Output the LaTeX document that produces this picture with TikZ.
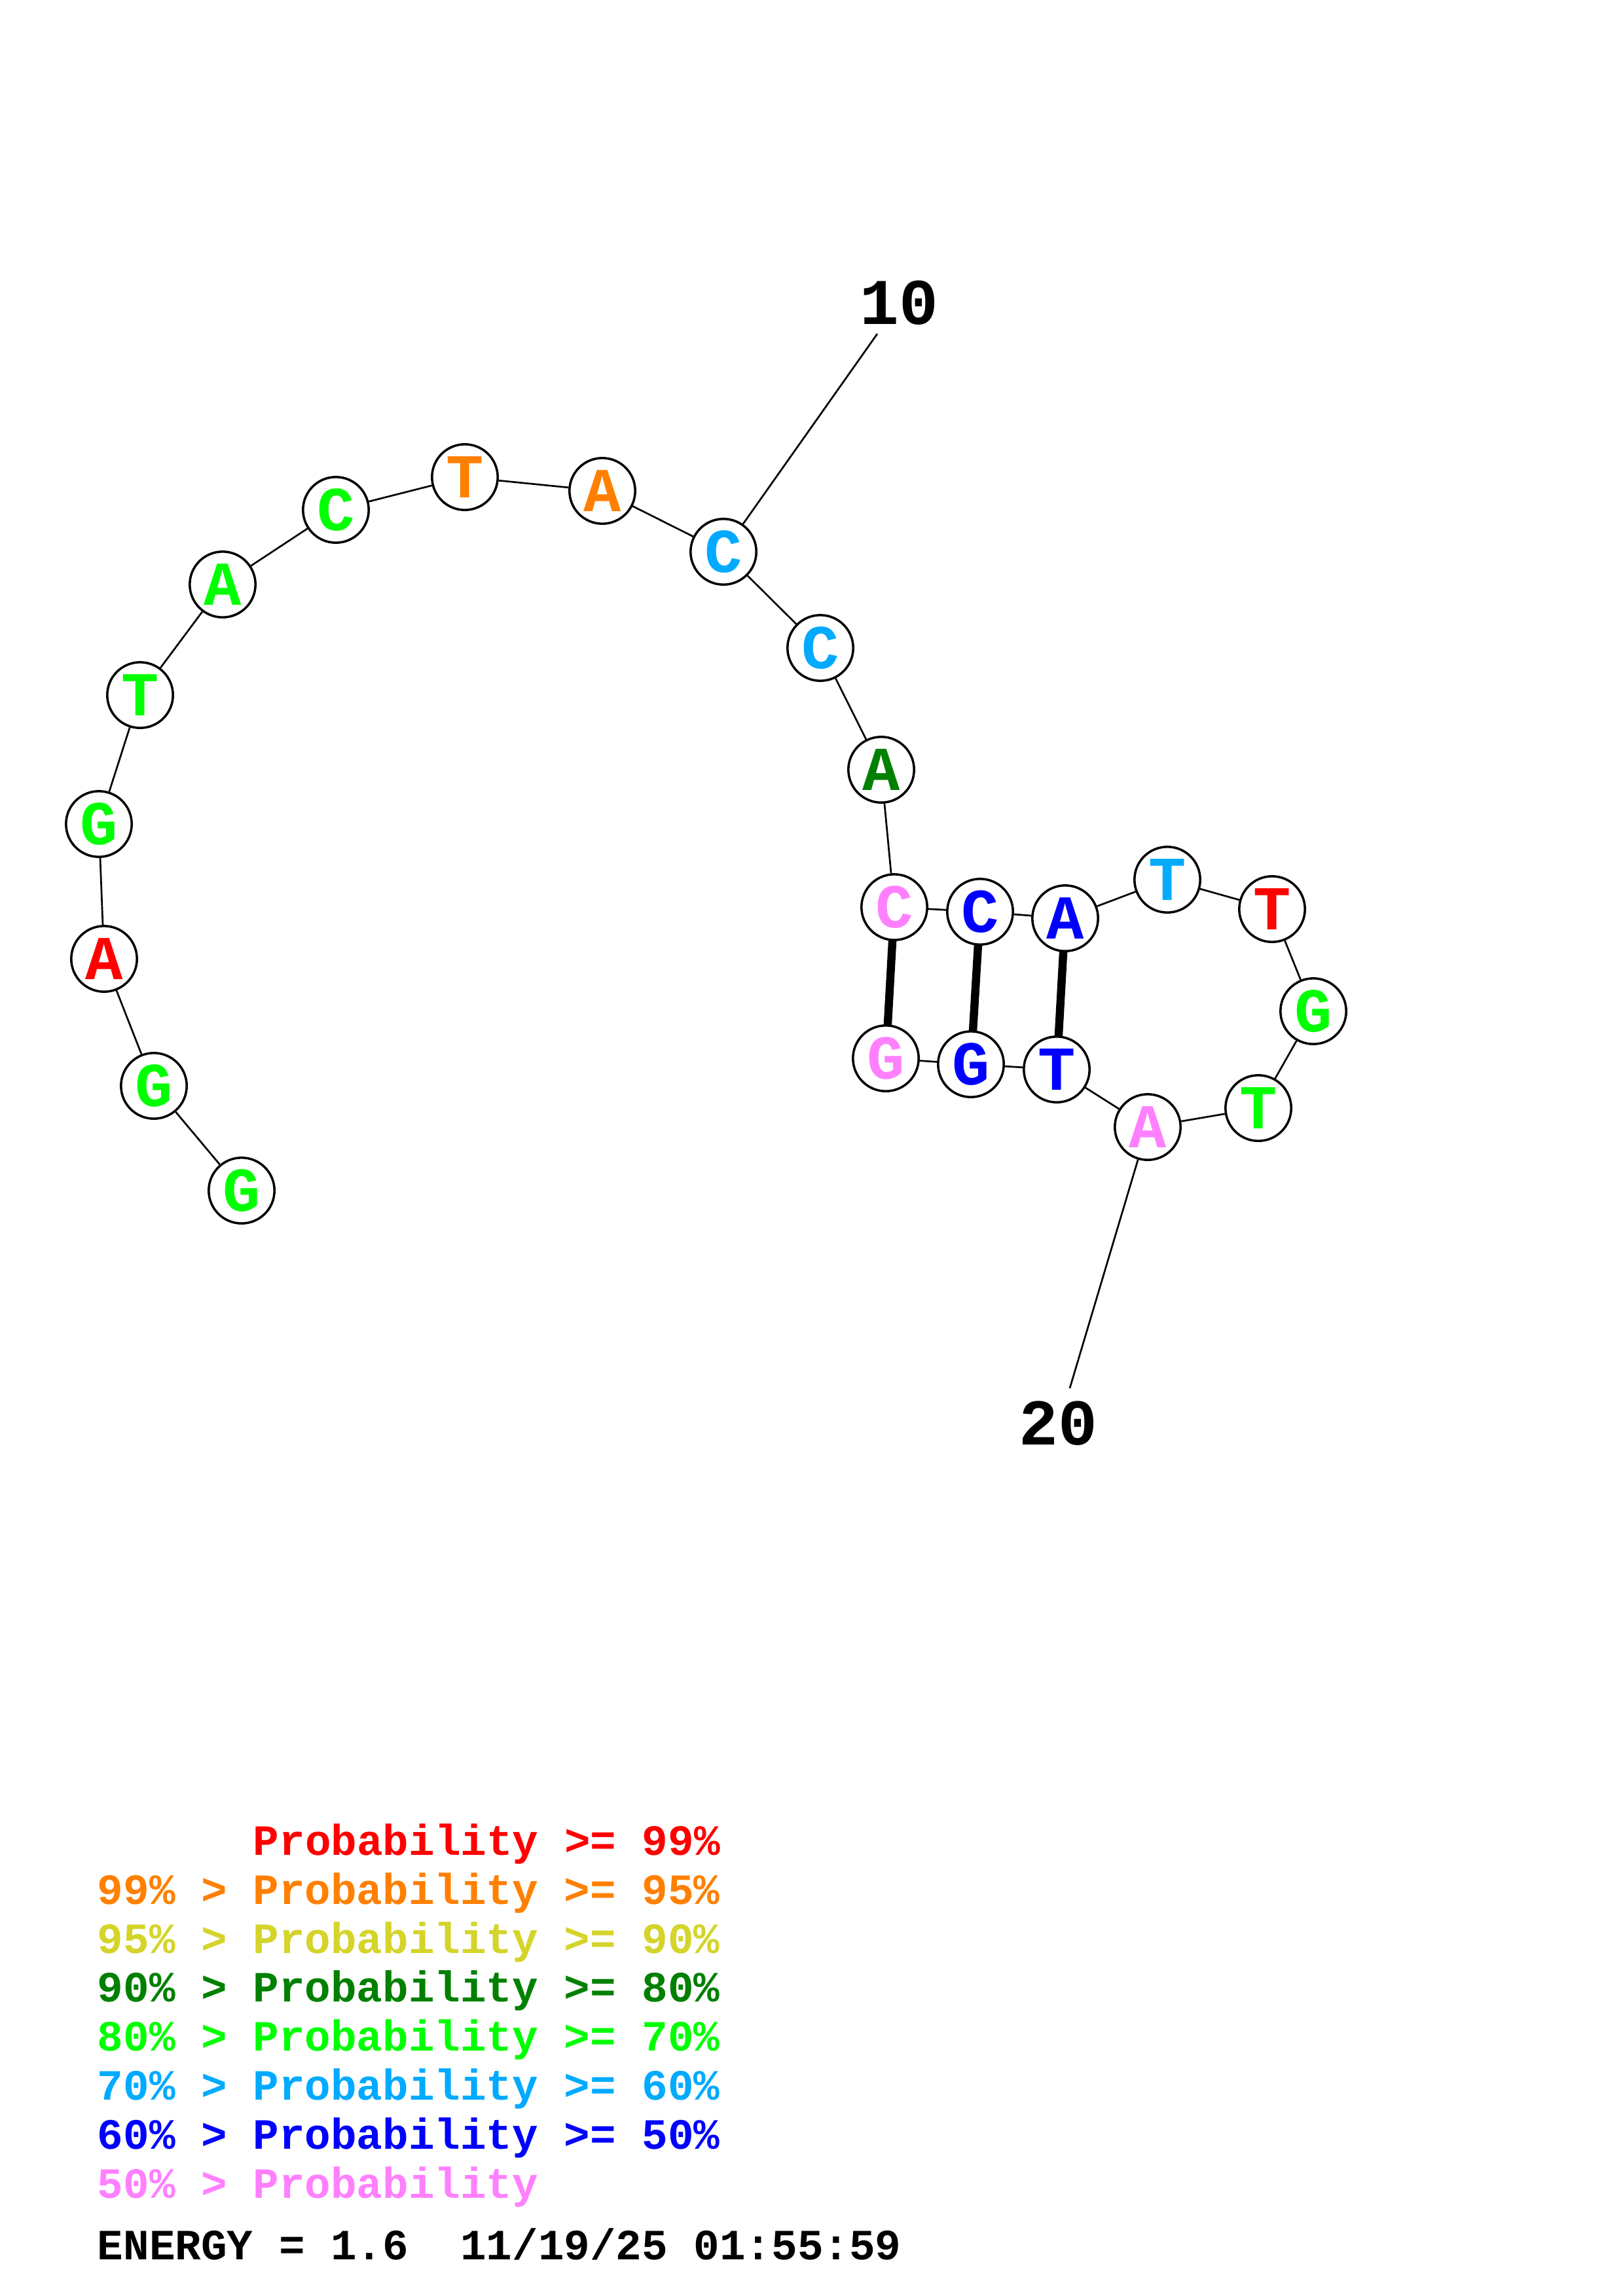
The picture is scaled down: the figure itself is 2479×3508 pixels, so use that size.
\documentclass[tikz,border=0pt]{standalone}
\usepackage{fontspec}
\newfontfamily\monof{Liberation Mono}
\definecolor{cRed}{RGB}{255,0,0}
\definecolor{cOrange}{RGB}{255,128,0}
\definecolor{cYellow}{RGB}{212,212,42}
\definecolor{cDkGreen}{RGB}{0,128,0}
\definecolor{cGreen}{RGB}{0,255,0}
\definecolor{cLtBlue}{RGB}{0,170,255}
\definecolor{cBlue}{RGB}{0,0,255}
\definecolor{cPink}{RGB}{255,128,255}
\tikzset{
  base/.style={circle, draw=black, line width=0.85pt, fill=white, minimum size=8.5mm, inner sep=0pt,
    font=\monof\bfseries\fontsize{23}{23}\selectfont},
  backbone/.style={line width=0.65pt, black},
  pairline/.style={line width=3pt, black},
  numlabel/.style={inner sep=0pt, font=\monof\bfseries\fontsize{24}{24}\selectfont},
  legend/.style={anchor=base west, inner sep=0pt, font=\monof\bfseries\fontsize{15.9}{18}\selectfont}
}
\begin{document}
\begin{tikzpicture}[x=0.0846667mm, y=-0.0846667mm]
\useasboundingbox[fill=white] (0,0) rectangle (2479,3508);
% base pairs (drawn first so circles cover ends)
\coordinate (p13) at (1366,1386);
\coordinate (p14) at (1497,1393);
\coordinate (p15) at (1627,1403);
\coordinate (p21) at (1614,1634);
\coordinate (p22) at (1483,1626);
\coordinate (p23) at (1353,1617);
\draw[pairline] (p13) -- (p23);
\draw[pairline] (p14) -- (p22);
\draw[pairline] (p15) -- (p21);
% backbone nodes
\node[base, text=cGreen]   (n1)  at (369,1819) {G};
\node[base, text=cGreen]   (n2)  at (235,1659) {G};
\node[base, text=cRed]     (n3)  at (159,1465) {A};
\node[base, text=cGreen]   (n4)  at (151,1259) {G};
\node[base, text=cGreen]   (n5)  at (214,1062) {T};
\node[base, text=cGreen]   (n6)  at (340,893)  {A};
\node[base, text=cGreen]   (n7)  at (513,779)  {C};
\node[base, text=cOrange]  (n8)  at (710,729)  {T};
\node[base, text=cOrange]  (n9)  at (920,750)  {A};
\node[base, text=cLtBlue]  (n10) at (1105,843) {C};
\node[base, text=cLtBlue]  (n11) at (1253,990) {C};
\node[base, text=cDkGreen] (n12) at (1346,1176) {A};
\node[base, text=cPink]    (n13) at (p13) {C};
\node[base, text=cBlue]    (n14) at (p14) {C};
\node[base, text=cBlue]    (n15) at (p15) {A};
\node[base, text=cLtBlue]  (n16) at (1783,1344) {T};
\node[base, text=cRed]     (n17) at (1943,1389) {T};
\node[base, text=cGreen]   (n18) at (2006,1545) {G};
\node[base, text=cGreen]   (n19) at (1922,1693) {T};
\node[base, text=cPink]    (n20) at (1753,1722) {A};
\node[base, text=cBlue]    (n21) at (p21) {T};
\node[base, text=cBlue]    (n22) at (p22) {G};
\node[base, text=cPink]    (n23) at (p23) {G};
% backbone
\draw[backbone] (n1) -- (n2) -- (n3) -- (n4) -- (n5) -- (n6) -- (n7) -- (n8) -- (n9) -- (n10) -- (n11) -- (n12);
\draw[backbone] (n12) -- (n13) -- (n14) -- (n15) -- (n16) -- (n17) -- (n18) -- (n19) -- (n20) -- (n21) -- (n22) -- (n23);
% position labels
\node[numlabel] (l10) at (1373,463) {10};
\coordinate (e10) at (1340,510);
\draw[backbone] (n10) -- (e10);
\node[numlabel] (l20) at (1616,2175) {20};
\coordinate (e20) at (1634,2121);
\draw[backbone] (n20) -- (e20);
% legend
\node[legend, text=cRed]     (g1) at (386,2834) {Probability >= 99\%};
\node[legend, text=cOrange]  (g2) at (148,2909) {99\% > Probability >= 95\%};
\node[legend, text=cYellow]  (g3) at (148,2984) {95\% > Probability >= 90\%};
\node[legend, text=cDkGreen] (g4) at (148,3058) {90\% > Probability >= 80\%};
\node[legend, text=cGreen]   (g5) at (148,3133) {80\% > Probability >= 70\%};
\node[legend, text=cLtBlue]  (g6) at (148,3208) {70\% > Probability >= 60\%};
\node[legend, text=cBlue]    (g7) at (148,3283) {60\% > Probability >= 50\%};
\node[legend, text=cPink]    (g8) at (148,3358) {50\% > Probability};
\node[legend, text=black]    (en) at (148,3452) {ENERGY = 1.6\ \ 11/19/25 01:55:59};
\end{tikzpicture}
\end{document}
